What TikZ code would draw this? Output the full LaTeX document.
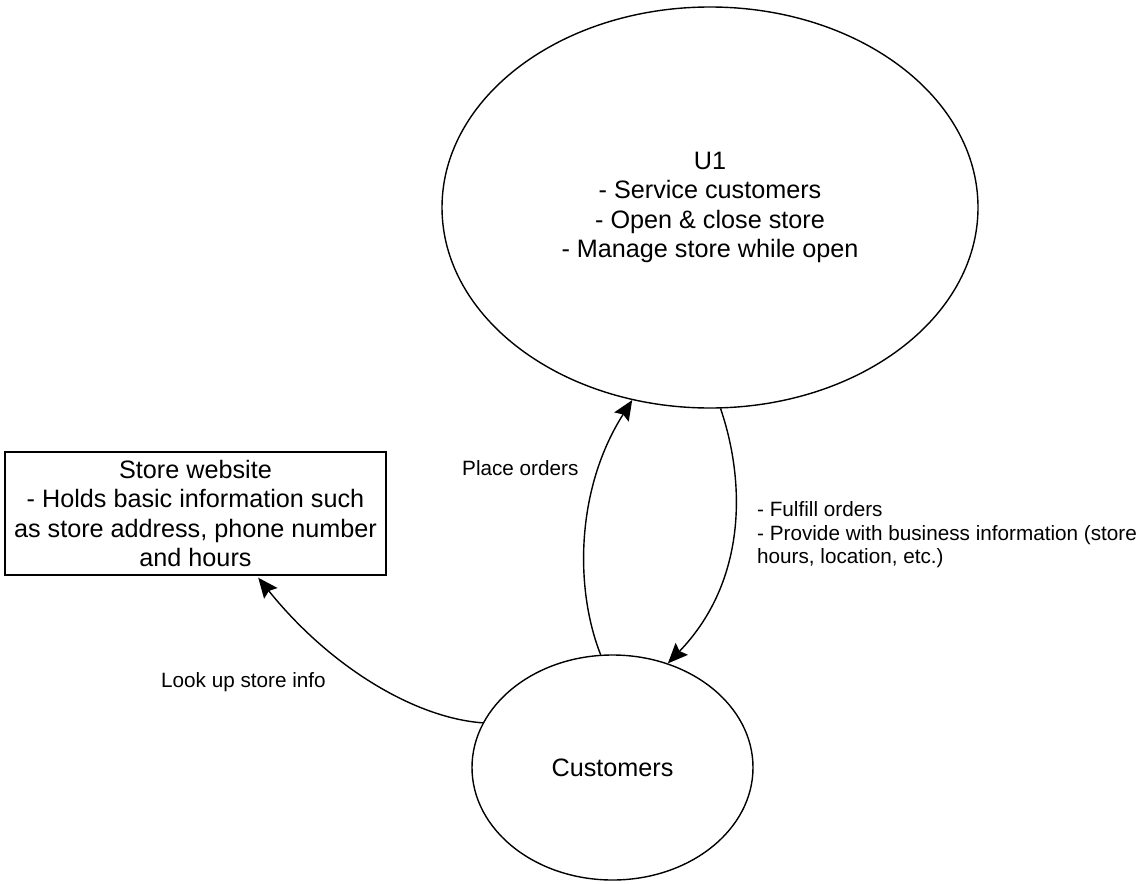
\documentclass[tikz,border=0pt]{standalone}
\usepackage{fontspec}
\setmainfont{Liberation Sans}
\usetikzlibrary{shapes.geometric,arrows.meta,calc}

\begin{document}
\begin{tikzpicture}[x=1pt,y=-1pt,
  bigtext/.style={font=\fontsize{25.2}{29.5}\selectfont, align=center},
  smalltext/.style={font=\fontsize{20.7}{23.5}\selectfont, inner sep=0pt},
  roleoval/.style={draw, line width=1.4pt, ellipse, inner sep=0pt, bigtext},
  sitebox/.style={draw, line width=1.4pt, rectangle, inner sep=0pt, bigtext},
  flow/.style={draw, line width=1.4pt,
    -{Stealth[length=20pt, width=17pt, inset=3pt]}}
]
  \useasboundingbox (0,0) rectangle (1147,883);

  % actors and systems
  \node[roleoval, minimum width=536pt, minimum height=401pt] (u1) at (710,207.5)
    {U1\\- Service customers\\- Open \& close store\\- Manage store while open};
  \node[roleoval, minimum width=281pt, minimum height=225pt] (cust) at (612.5,767.5)
    {Customers};
  \node[sitebox, minimum width=381pt, minimum height=123pt] (web) at (195.5,513.5)
    {Store website\\- Holds basic information such\\as store address, phone number\\and hours};

  \coordinate (webin) at ($(web.south west)!0.664!(web.south east)+(0,2)$);

  % flows
  \draw[flow] (cust.96.7) .. controls (575,590) and (575,490) .. (u1.248.9);
  \draw[flow] (u1.273.4) .. controls (745,480) and (748,580) .. (cust.62);
  \draw[flow] (cust.161.4) .. controls (415,718) and (330,667) .. (webin);

  % flow labels
  \node[smalltext, anchor=west] (lplace) at (462,468) {Place orders};
  \node[smalltext, anchor=west] (llook) at (161,682) {Look up store info};
  \node[smalltext, anchor=west, align=left] (lfulfill) at (757,535)
    {- Fulfill orders\\- Provide with business information (store\\hours, location, etc.)};
\end{tikzpicture}
\end{document}
